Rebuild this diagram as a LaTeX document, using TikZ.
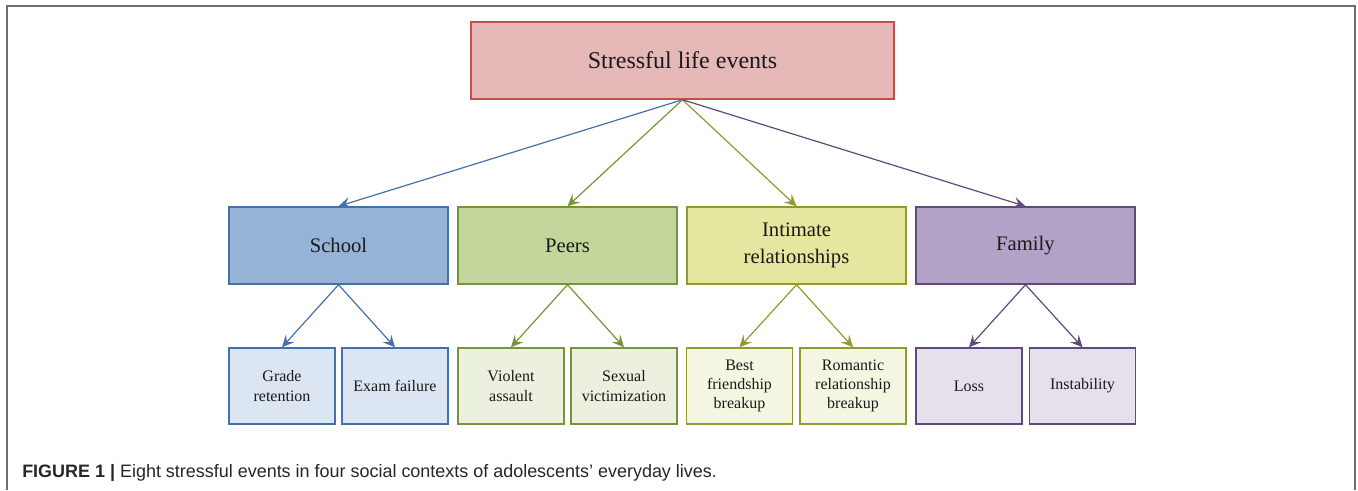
\documentclass[tikz,border=0pt]{standalone}
\usepackage{fontspec}
\setmainfont{Liberation Serif}
\newfontfamily\capfont{Liberation Sans}
\usetikzlibrary{arrows.meta}
\definecolor{topfill}{HTML}{E6B8B7}\definecolor{topdraw}{HTML}{C0504D}
\definecolor{schfill}{HTML}{95B3D7}\definecolor{schdraw}{HTML}{4372AA}\definecolor{schleaf}{HTML}{DCE6F2}
\definecolor{peerfill}{HTML}{C3D69B}\definecolor{peerdraw}{HTML}{77933C}\definecolor{peerleaf}{HTML}{EBF1DE}
\definecolor{intfill}{HTML}{E5E6A0}\definecolor{intdraw}{HTML}{93982F}\definecolor{intleaf}{HTML}{F5F6E1}
\definecolor{famfill}{HTML}{B3A2C7}\definecolor{famdraw}{HTML}{604A7B}\definecolor{famleaf}{HTML}{E6E0EC}
\definecolor{txt}{HTML}{1A1A1A}
\definecolor{frame}{HTML}{6E6E6E}
\tikzset{
  box/.style={draw, line width=1.1pt, text=txt, align=center, inner sep=0pt},
  topbox/.style={box, fill=topfill, draw=topdraw, minimum width=317.25pt, minimum height=57.75pt, font=\fontsize{18}{22}\selectfont},
  midbox/.style={box, minimum width=164.25pt, minimum height=57.75pt, font=\fontsize{15.5}{20}\selectfont},
  leafbox/.style={box, minimum width=79.5pt, minimum height=57pt, font=\fontsize{12}{14.5}\selectfont},
  conn/.style={line width=0.9pt, -{Stealth[length=9pt, width=8.5pt, inset=3.5pt]}},
}
\begin{document}
\begin{tikzpicture}[x=0.75pt, y=-0.75pt]
\useasboundingbox (0,0) rectangle (1358,490);
\draw[frame, line width=1.2pt] (7,490) -- (7,6) -- (1355,6) -- (1355,490);
\node[topbox] (top) at (682.5,60.5) {Stressful life events};
\node[midbox, fill=schfill, draw=schdraw] (sch) at (338.5,245.5) {School};
\node[midbox, fill=peerfill, draw=peerdraw] (peer) at (567.5,245.5) {Peers};
\node[midbox, fill=intfill, draw=intdraw] (int) at (796.5,245.5) {Intimate\\relationships};
\node[midbox, fill=famfill, draw=famdraw] (fam) at (1025.5,245.5) {Family};
\node[leafbox, fill=schleaf, draw=schdraw] (l1) at (282,386) {Grade\\retention};
\node[leafbox, fill=schleaf, draw=schdraw] (l2) at (395,386) {Exam failure};
\node[leafbox, fill=peerleaf, draw=peerdraw] (l3) at (511,386) {Violent\\assault};
\node[leafbox, fill=peerleaf, draw=peerdraw] (l4) at (624,386) {Sexual\\victimization};
\node[leafbox, fill=intleaf, draw=intdraw] (l5) at (739.5,386) {Best\\friendship\\breakup};
\node[leafbox, fill=intleaf, draw=intdraw] (l6) at (853,386) {Romantic\\relationship\\breakup};
\node[leafbox, fill=famleaf, draw=famdraw] (l7) at (969,386) {Loss};
\node[leafbox, fill=famleaf, draw=famdraw] (l8) at (1082.5,386) {Instability};
\draw[conn, schdraw] (top.south) -- (sch.north);
\draw[conn, peerdraw] (top.south) -- (peer.north);
\draw[conn, intdraw] (top.south) -- (int.north);
\draw[conn, famdraw] (top.south) -- (fam.north);
\draw[conn, schdraw] (sch.south) -- (l1.north);
\draw[conn, schdraw] (sch.south) -- (l2.north);
\draw[conn, peerdraw] (peer.south) -- (l3.north);
\draw[conn, peerdraw] (peer.south) -- (l4.north);
\draw[conn, intdraw] (int.south) -- (l5.north);
\draw[conn, intdraw] (int.south) -- (l6.north);
\draw[conn, famdraw] (fam.south) -- (l7.north);
\draw[conn, famdraw] (fam.south) -- (l8.north);
\node[anchor=base west, inner sep=0pt, text=black!85, font=\capfont\fontsize{13.5}{16}\selectfont] (cap) at (22,477)
  {\resizebox{521pt}{\height}{\textbf{FIGURE 1 |} Eight stressful events in four social contexts of adolescents’ everyday lives.}};
\end{tikzpicture}
\end{document}
